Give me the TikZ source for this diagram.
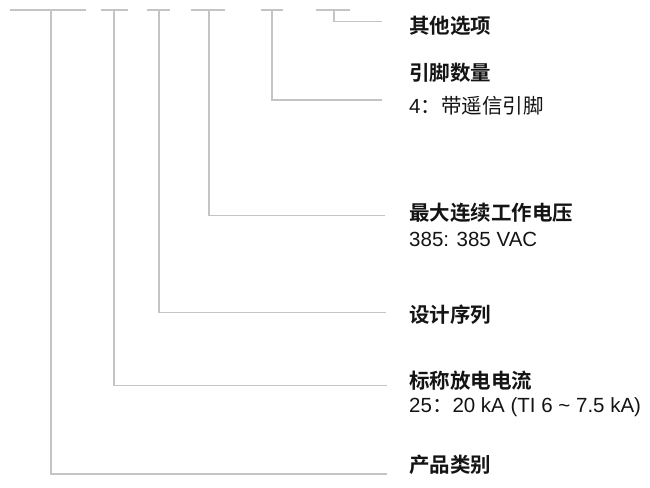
\documentclass[tikz,border=0pt]{standalone}
\usepackage{fontspec}
\setmainfont{Liberation Sans}
\newfontfamily\cjk{Noto Sans CJK SC}[BoldFont={Noto Sans CJK SC Bold}]
\definecolor{linegray}{RGB}{196,196,196}
\definecolor{txt}{RGB}{20,20,20}
\begin{document}
\begin{tikzpicture}[x=1pt,y=-1pt,
  leader/.style={draw=linegray,line width=1.5pt},
  head/.style={anchor=base west,inner sep=0pt,text=txt,font=\fontsize{20.5}{24}\selectfont\cjk\bfseries},
  desc/.style={anchor=base west,inner sep=0pt,text=txt,font=\fontsize{20.5}{24}\selectfont}]
\useasboundingbox (0,0) rectangle (650,487);
% text
\node[head] (t6) at (409,34) {其他选项};
\node[head] (t5) at (409,81) {引脚数量};
\node[desc] (d5) at (409,113.5) {4{\cjk：带遥信引脚}};
\node[head] (t4) at (409,220.3) {最大连续工作电压};
\node[desc] (d4) at (409,246) {385: 385 VAC};
\node[head] (t3) at (409,322) {设计序列};
\node[head] (t2) at (409,388.6) {标称放电电流};
\node[desc] (d2) at (409,412.7) {25{\cjk：}20 kA (TI 6 \textasciitilde{} 7.5 kA)};
\node[head] (t1) at (409,472.8) {产品类别};
% bars
\coordinate (b1l) at (10,10);  \coordinate (b1r) at (86,10);  \coordinate (b1) at (51,10);
\coordinate (b2l) at (101,10); \coordinate (b2r) at (128,10); \coordinate (b2) at (114,10);
\coordinate (b3l) at (147,10); \coordinate (b3r) at (170,10); \coordinate (b3) at (159,10);
\coordinate (b4l) at (191,10); \coordinate (b4r) at (225,10); \coordinate (b4) at (209,10);
\coordinate (b5l) at (261,10); \coordinate (b5r) at (283,10); \coordinate (b5) at (272,10);
\coordinate (b6l) at (316,10); \coordinate (b6r) at (350,10); \coordinate (b6) at (334,10);
\foreach \i in {1,...,6} {\draw[leader] (b\i l) -- (b\i r);}
% leader ends
\coordinate (e1) at (387,474);
\coordinate (e2) at (387,385.5);
\coordinate (e3) at (386,312.5);
\coordinate (e4) at (385,215.5);
\coordinate (e5) at (382,100);
\coordinate (e6) at (382,21.7);
\foreach \i in {1,...,6} {\draw[leader,line join=miter] (b\i) |- (e\i);}
\end{tikzpicture}
\end{document}
